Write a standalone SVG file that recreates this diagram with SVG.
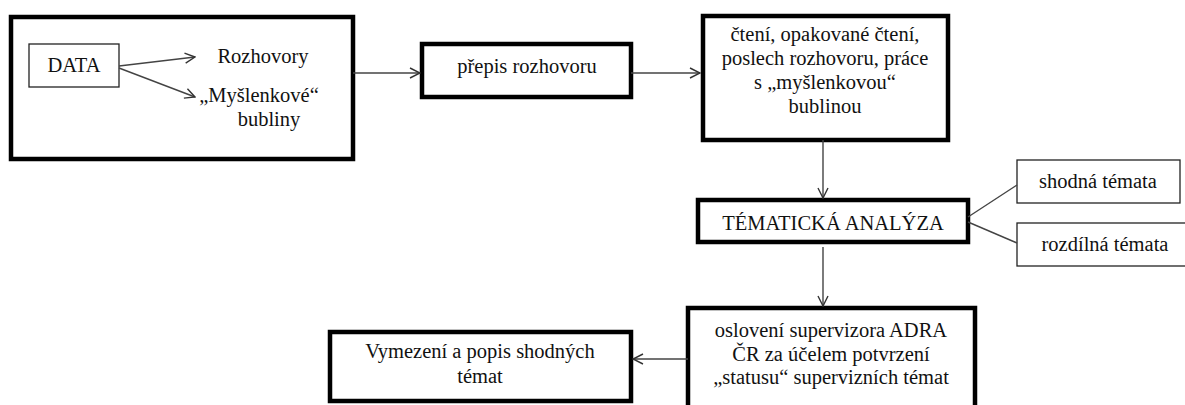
<svg xmlns="http://www.w3.org/2000/svg" width="1185" height="405" viewBox="0 0 1185 405">
  <style>
    .txt { font-family: "Liberation Serif", Tinos, "Times New Roman", "DejaVu Serif", serif; font-size: 20.5px; fill: #111; text-anchor: middle; }
    .thick { fill: #fff; stroke: #000; stroke-width: 4.5; }
    .thin { fill: #fff; stroke: #222; stroke-width: 1.3; }
    .conn { fill: none; stroke: #444; stroke-width: 1.4; }
  </style>
  <defs>
    <marker id="arrow" viewBox="0 0 12 12" refX="11" refY="6" markerWidth="12" markerHeight="12" markerUnits="userSpaceOnUse" orient="auto">
      <path d="M1,1 L11,6 L1,11" fill="none" stroke="#333" stroke-width="1.4"/>
    </marker>
  </defs>
  <rect width="1185" height="405" fill="#fff"/>

  <!-- data sources -->
  <g id="data-group">
    <rect class="thick" x="11" y="17" width="342" height="142"/>
  </g>
  <g id="data">
    <rect class="thin" x="29" y="44" width="90" height="43"/>
    <text class="txt" x="74" y="72">DATA</text>
  </g>
  <g id="rozhovory">
    <text class="txt" x="263" y="63">Rozhovory</text>
  </g>
  <g id="bubliny">
    <text class="txt" x="259" y="102">„Myšlenkové“</text>
    <text class="txt" x="269" y="126">bubliny</text>
  </g>

  <!-- processing steps -->
  <g id="prepis">
    <rect class="thick" x="422" y="44" width="209" height="53"/>
    <text class="txt" x="527" y="73">přepis rozhovoru</text>
  </g>
  <g id="cteni">
    <rect class="thick" x="703" y="16" width="245" height="124"/>
    <text class="txt" x="825" y="41">čtení, opakované čtení,</text>
    <text class="txt" x="825" y="65">poslech rozhovoru, práce</text>
    <text class="txt" x="825" y="89">s „myšlenkovou“</text>
    <text class="txt" x="825" y="113">bublinou</text>
  </g>
  <g id="analyza">
    <rect class="thick" x="698" y="200" width="270" height="42"/>
    <text class="txt" x="833" y="230">TÉMATICKÁ ANALÝZA</text>
  </g>
  <g id="shodna">
    <rect class="thin" x="1017" y="160" width="163" height="43"/>
    <text class="txt" x="1098" y="188">shodná témata</text>
  </g>
  <g id="rozdilna">
    <rect class="thin" x="1017" y="223" width="170" height="43"/>
    <text class="txt" x="1105" y="251">rozdílná témata</text>
  </g>
  <g id="osloveni">
    <rect class="thick" x="688" y="308" width="287" height="110"/>
    <text class="txt" x="831" y="337">oslovení supervizora ADRA</text>
    <text class="txt" x="831" y="361">ČR za účelem potvrzení</text>
    <text class="txt" x="831" y="384">„statusu“ supervizních témat</text>
  </g>
  <g id="vymezeni">
    <rect class="thick" x="330" y="332" width="301" height="69"/>
    <text class="txt" x="480" y="358">Vymezení a popis shodných</text>
    <text class="txt" x="480" y="383">témat</text>
  </g>

  <!-- connectors -->
  <g id="connectors">
    <line class="conn" x1="119" y1="66" x2="195" y2="57" marker-end="url(#arrow)"/>
    <line class="conn" x1="119" y1="68" x2="195" y2="97" marker-end="url(#arrow)"/>
    <line class="conn" x1="353" y1="73" x2="420" y2="73" marker-end="url(#arrow)"/>
    <line class="conn" x1="631" y1="73" x2="700" y2="73" marker-end="url(#arrow)"/>
    <line class="conn" x1="823" y1="140" x2="823" y2="198" marker-end="url(#arrow)"/>
    <line class="conn" x1="968" y1="217" x2="1017" y2="185"/>
    <line class="conn" x1="968" y1="222" x2="1017" y2="243"/>
    <line class="conn" x1="823" y1="247" x2="823" y2="306" marker-end="url(#arrow)"/>
    <line class="conn" x1="688" y1="359" x2="633" y2="359" marker-end="url(#arrow)"/>
  </g>
</svg>
